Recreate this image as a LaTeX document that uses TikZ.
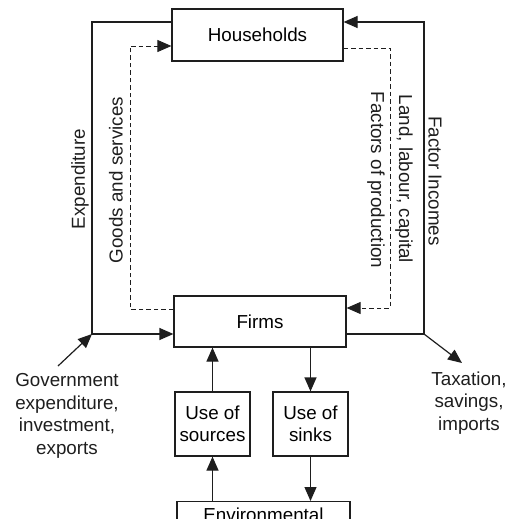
\documentclass[tikz,border=0pt]{standalone}
\usepackage{fontspec}
\setmainfont{Liberation Sans}
\usetikzlibrary{arrows.meta,calc}
\definecolor{ink}{HTML}{1E1E1E}
\tikzset{
  box/.style={draw=ink,line width=1.2pt,fill=white,inner sep=0pt,align=center},
  arr/.style={draw=ink,line width=1.2pt,-{Triangle[length=14pt,width=12pt]}},
  darr/.style={draw=ink,line width=0.9pt,dash pattern=on 4.5pt off 3pt,-{Triangle[length=14pt,width=12pt]}},
  lbl/.style={text=ink,inner sep=0pt,align=center}
}
\begin{document}
\begin{tikzpicture}[x=1pt,y=-1pt,font=\fontsize{18.8}{22.5}\selectfont]
\useasboundingbox (0,0) rectangle (508,519);
\clip (0,0) rectangle (508,519);
% boxes
\node[box,minimum width=171pt,minimum height=52pt] (hh) at (257.5,35) {Households};
\node[box,minimum width=172pt,minimum height=51pt] (fi) at (260,321.5) {Firms};
\node[box,minimum width=75pt,minimum height=64pt] (us) at (212.5,424) {Use of\\sources};
\node[box,minimum width=75pt,minimum height=64pt] (sk) at (310.5,424) {Use of\\sinks};
\node[box,anchor=north,minimum width=173pt,inner ysep=6.5pt,text height=13.5pt,text depth=30pt] (env) at (263.5,501) {Environmental};
% corner coordinates
\coordinate (tl) at (92,22);
\coordinate (bl) at (92,334);
\coordinate (tr) at (424,22);
\coordinate (br) at (424,334);
\coordinate (dtl) at (130,46);
\coordinate (dbl) at (130,309);
\coordinate (dtr) at (390,48);
\coordinate (dbr) at (390,308);
\coordinate (gs) at (58,366);
\coordinate (te) at (462,363);
% solid loop
\draw[arr] (hh.west|-tl) -- (tl) -- (bl) -- (fi.west|-bl);
\draw[arr] (fi.east|-br) -- (br) -- (tr) -- (hh.east|-tr);
% dashed loop
\draw[darr] (fi.west|-dbl) -- (dbl) -- (dtl) -- (hh.west|-dtl);
\draw[darr] (hh.east|-dtr) -- (dtr) -- (dbr) -- (fi.east|-dbr);
% injections / leakages
\draw[arr] (gs) -- (bl);
\draw[arr] (br) -- (te);
% environment links
\draw[arr] (us.north) -- (us.north|-fi.south);
\draw[arr] (fi.south-|sk.north) -- (sk.north);
\draw[arr] (env.north-|us.south) -- (us.south);
\draw[arr] (sk.south) -- (sk.south|-env.north);
% labels
\node[lbl,rotate=90] (lexp) at (80,179) {Expenditure};
\node[lbl,rotate=90] (lgs) at (116,180) {Goods and services};
\node[lbl,rotate=-90] (llab) at (404,179) {Land, labour, capital};
\node[lbl,rotate=-90] (lfac) at (376,180) {Factors of production};
\node[lbl,rotate=-90] (linc) at (435,181) {Factor Incomes};
\node[lbl] (gov) at (67,416) {Government\\expenditure,\\investment,\\exports};
\node[lbl] (tax) at (469,403) {Taxation,\\savings,\\imports};
\end{tikzpicture}
\end{document}
